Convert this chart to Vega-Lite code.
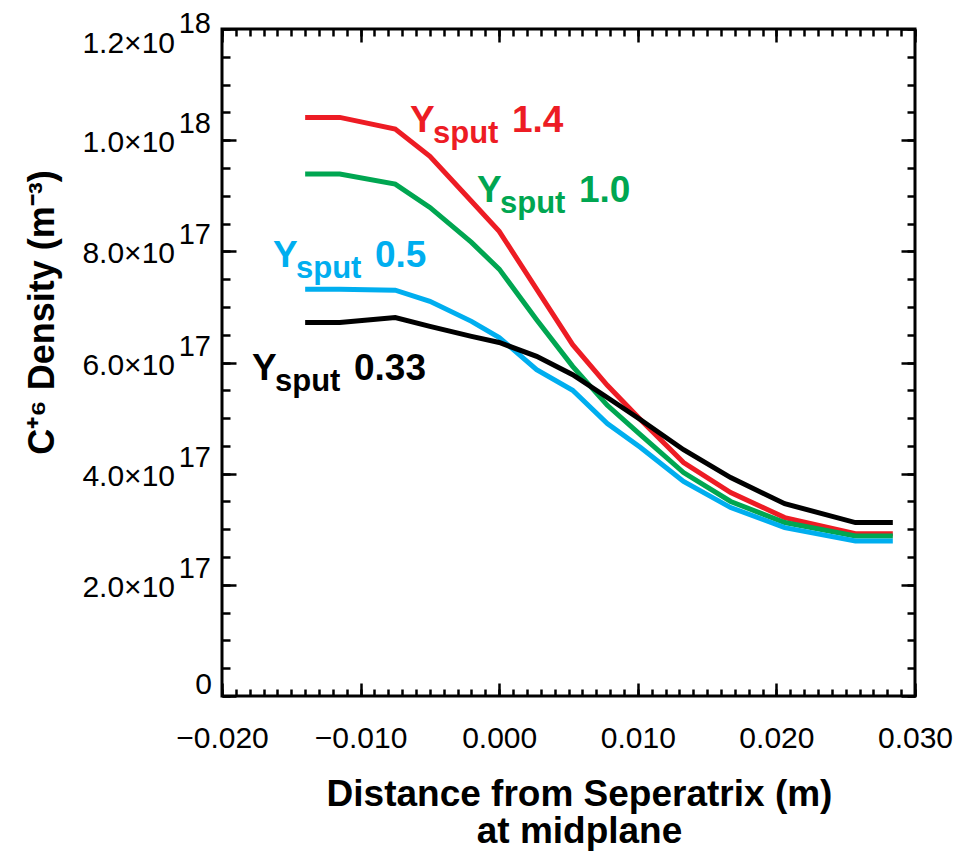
{
  "$schema": "https://vega.github.io/schema/vega-lite/v6.json",
  "width": 693,
  "height": 667,
  "autosize": {"type": "none"},
  "padding": {"left": 222, "top": 29, "right": 58, "bottom": 157},
  "background": "white",
  "config": {
    "view": {"stroke": "black", "strokeWidth": 3},
    "axis": {"domain": false, "grid": false, "tickColor": "black", "tickWidth": 2.5, "labelFont": "Liberation Sans", "labelFontSize": 30, "labelColor": "black", "titleFont": "Liberation Sans", "titleColor": "black"}
  },
  "datasets": {
    "lines": [
      {"s": "1.4", "x": -0.0140, "y": 1.041e18}, {"s": "1.4", "x": -0.0115, "y": 1.041e18}, {"s": "1.4", "x": -0.0075, "y": 1.020e18}, {"s": "1.4", "x": -0.0050, "y": 9.71e17}, {"s": "1.4", "x": -0.0020, "y": 8.90e17}, {"s": "1.4", "x": 0.0000, "y": 8.36e17}, {"s": "1.4", "x": 0.0027, "y": 7.32e17}, {"s": "1.4", "x": 0.0053, "y": 6.32e17}, {"s": "1.4", "x": 0.0078, "y": 5.59e17}, {"s": "1.4", "x": 0.0102, "y": 4.97e17}, {"s": "1.4", "x": 0.0133, "y": 4.20e17}, {"s": "1.4", "x": 0.0167, "y": 3.66e17}, {"s": "1.4", "x": 0.0206, "y": 3.21e17}, {"s": "1.4", "x": 0.0257, "y": 2.92e17}, {"s": "1.4", "x": 0.0284, "y": 2.92e17},
      {"s": "1.0", "x": -0.0140, "y": 9.39e17}, {"s": "1.0", "x": -0.0115, "y": 9.39e17}, {"s": "1.0", "x": -0.0075, "y": 9.21e17}, {"s": "1.0", "x": -0.0050, "y": 8.79e17}, {"s": "1.0", "x": -0.0020, "y": 8.16e17}, {"s": "1.0", "x": 0.0000, "y": 7.68e17}, {"s": "1.0", "x": 0.0027, "y": 6.77e17}, {"s": "1.0", "x": 0.0053, "y": 5.93e17}, {"s": "1.0", "x": 0.0078, "y": 5.23e17}, {"s": "1.0", "x": 0.0102, "y": 4.70e17}, {"s": "1.0", "x": 0.0133, "y": 4.02e17}, {"s": "1.0", "x": 0.0167, "y": 3.50e17}, {"s": "1.0", "x": 0.0206, "y": 3.12e17}, {"s": "1.0", "x": 0.0257, "y": 2.88e17}, {"s": "1.0", "x": 0.0284, "y": 2.88e17},
      {"s": "0.5", "x": -0.0140, "y": 7.32e17}, {"s": "0.5", "x": -0.0115, "y": 7.32e17}, {"s": "0.5", "x": -0.0075, "y": 7.30e17}, {"s": "0.5", "x": -0.0050, "y": 7.10e17}, {"s": "0.5", "x": -0.0020, "y": 6.74e17}, {"s": "0.5", "x": 0.0000, "y": 6.45e17}, {"s": "0.5", "x": 0.0027, "y": 5.87e17}, {"s": "0.5", "x": 0.0053, "y": 5.50e17}, {"s": "0.5", "x": 0.0078, "y": 4.90e17}, {"s": "0.5", "x": 0.0102, "y": 4.47e17}, {"s": "0.5", "x": 0.0133, "y": 3.86e17}, {"s": "0.5", "x": 0.0167, "y": 3.39e17}, {"s": "0.5", "x": 0.0206, "y": 3.03e17}, {"s": "0.5", "x": 0.0257, "y": 2.79e17}, {"s": "0.5", "x": 0.0284, "y": 2.79e17},
      {"s": "0.33", "x": -0.0140, "y": 6.72e17}, {"s": "0.33", "x": -0.0115, "y": 6.72e17}, {"s": "0.33", "x": -0.0075, "y": 6.81e17}, {"s": "0.33", "x": -0.0050, "y": 6.65e17}, {"s": "0.33", "x": -0.0020, "y": 6.47e17}, {"s": "0.33", "x": 0.0000, "y": 6.36e17}, {"s": "0.33", "x": 0.0027, "y": 6.11e17}, {"s": "0.33", "x": 0.0053, "y": 5.78e17}, {"s": "0.33", "x": 0.0078, "y": 5.37e17}, {"s": "0.33", "x": 0.0102, "y": 4.97e17}, {"s": "0.33", "x": 0.0133, "y": 4.43e17}, {"s": "0.33", "x": 0.0167, "y": 3.93e17}, {"s": "0.33", "x": 0.0206, "y": 3.46e17}, {"s": "0.33", "x": 0.0257, "y": 3.12e17}, {"s": "0.33", "x": 0.0284, "y": 3.12e17}
    ],
    "labels": [
      {"s": "1.4", "x": -0.006436, "y": 1.0144e18},
      {"s": "1.0", "x": -0.0016017, "y": 8.883e17},
      {"s": "0.5", "x": -0.016320, "y": 7.712e17},
      {"s": "0.33", "x": -0.017835, "y": 5.694e17}
    ],
    "yticks": [
      {"v": 0, "m": "0", "e": ""},
      {"v": 2e17, "m": "2.0×10", "e": "17"},
      {"v": 4e17, "m": "4.0×10", "e": "17"},
      {"v": 6e17, "m": "6.0×10", "e": "17"},
      {"v": 8e17, "m": "8.0×10", "e": "17"},
      {"v": 1e18, "m": "1.0×10", "e": "18"},
      {"v": 1.2e18, "m": "1.2×10", "e": "18"}
    ]
  },
  "data": {"name": "lines"},
  "layer": [
    {
      "mark": {"type": "line", "strokeWidth": 5},
      "encoding": {
        "x": {"field": "x", "type": "quantitative", "scale": {"domain": [-0.02, 0.03], "nice": false, "zero": false},
          "axis": {"orient": "bottom", "values": [-0.02, -0.01, 0, 0.01, 0.02, 0.03], "format": ".3f", "tickSize": -13, "labelPadding": 40, "labelFlush": false, "labelOverlap": false,
            "title": ["Distance from Seperatrix (m)", "at midplane"], "titleFontSize": 37, "titleFontWeight": "bold", "titleLineHeight": 37, "titleBaseline": "alphabetic", "titleAnchor": "start", "titleAlign": "center", "titleX": 357, "titleY": 109}},
        "y": {"field": "y", "type": "quantitative", "scale": {"domain": [0, 1.2e18], "nice": false, "zero": false},
          "axis": {"orient": "left", "values": [0, 2e17, 4e17, 6e17, 8e17, 1e18, 1.2e18], "tickSize": -14, "labels": false,
            "title": "C⁺⁶ Density (m⁻³)", "titleFontSize": 36, "titleFontWeight": "bold", "titleAngle": -90, "titleAlign": "center", "titleBaseline": "middle", "titleAnchor": "start", "titleX": -180, "titleY": 283}},
        "color": {"field": "s", "type": "nominal", "sort": null, "scale": {"domain": ["1.4", "1.0", "0.5", "0.33"], "range": ["#ED1C24", "#00A651", "#00AEEF", "#000000"]}, "legend": null}
      }
    },
    {
      "mark": {"type": "point", "opacity": 0},
      "encoding": {
        "x": {"field": "x", "type": "quantitative", "axis": {"orient": "bottom", "values": [-0.02, -0.019, -0.018, -0.017, -0.016, -0.015, -0.014, -0.013, -0.012, -0.011, -0.01, -0.009, -0.008, -0.007, -0.006, -0.005, -0.004, -0.003, -0.002, -0.001, 0, 0.001, 0.002, 0.003, 0.004, 0.005, 0.006, 0.007, 0.008, 0.009, 0.01, 0.011, 0.012, 0.013, 0.014, 0.015, 0.016, 0.017, 0.018, 0.019, 0.02, 0.021, 0.022, 0.023, 0.024, 0.025, 0.026, 0.027, 0.028, 0.029, 0.03], "tickSize": -7, "labels": false, "title": null}},
        "y": {"field": "y", "type": "quantitative", "axis": {"orient": "left", "values": [0, 5e16, 1e17, 1.5e17, 2e17, 2.5e17, 3e17, 3.5e17, 4e17, 4.5e17, 5e17, 5.5e17, 6e17, 6.5e17, 7e17, 7.5e17, 8e17, 8.5e17, 9e17, 9.5e17, 1e18, 1.05e18, 1.1e18, 1.15e18, 1.2e18], "tickSize": -8, "labels": false, "title": null}}
      }
    },
    {
      "mark": {"type": "point", "opacity": 0},
      "encoding": {
        "x": {"field": "x", "type": "quantitative", "axis": {"orient": "top", "values": [-0.02, -0.01, 0, 0.01, 0.02, 0.03], "tickSize": -13, "labels": false, "title": null}},
        "y": {"field": "y", "type": "quantitative", "axis": {"orient": "right", "values": [0, 2e17, 4e17, 6e17, 8e17, 1e18, 1.2e18], "tickSize": -14, "labels": false, "title": null}}
      }
    },
    {
      "mark": {"type": "point", "opacity": 0},
      "encoding": {
        "x": {"field": "x", "type": "quantitative", "axis": {"orient": "top", "values": [-0.02, -0.019, -0.018, -0.017, -0.016, -0.015, -0.014, -0.013, -0.012, -0.011, -0.01, -0.009, -0.008, -0.007, -0.006, -0.005, -0.004, -0.003, -0.002, -0.001, 0, 0.001, 0.002, 0.003, 0.004, 0.005, 0.006, 0.007, 0.008, 0.009, 0.01, 0.011, 0.012, 0.013, 0.014, 0.015, 0.016, 0.017, 0.018, 0.019, 0.02, 0.021, 0.022, 0.023, 0.024, 0.025, 0.026, 0.027, 0.028, 0.029, 0.03], "tickSize": -7, "labels": false, "title": null}},
        "y": {"field": "y", "type": "quantitative", "axis": {"orient": "right", "values": [0, 5e16, 1e17, 1.5e17, 2e17, 2.5e17, 3e17, 3.5e17, 4e17, 4.5e17, 5e17, 5.5e17, 6e17, 6.5e17, 7e17, 7.5e17, 8e17, 8.5e17, 9e17, 9.5e17, 1e18, 1.05e18, 1.1e18, 1.15e18, 1.2e18], "tickSize": -8, "labels": false, "title": null}}
      }
    },
    {
      "data": {"name": "yticks"},
      "transform": [{"filter": "datum.v > 0 && datum.v < 1.1e18"}],
      "mark": {"type": "text", "align": "right", "baseline": "middle", "dx": -47, "dy": 3, "font": "Liberation Sans", "fontSize": 30, "color": "black"},
      "encoding": {
        "x": {"datum": -0.02, "type": "quantitative", "axis": null},
        "y": {"field": "v", "type": "quantitative", "axis": null},
        "text": {"field": "m"}
      }
    },
    {
      "data": {"name": "yticks"},
      "transform": [{"filter": "datum.v > 0 && datum.v < 1.1e18"}],
      "mark": {"type": "text", "align": "right", "baseline": "middle", "dx": -11, "dy": -16, "font": "Liberation Sans", "fontSize": 29, "color": "black"},
      "encoding": {
        "x": {"datum": -0.02, "type": "quantitative", "axis": null},
        "y": {"field": "v", "type": "quantitative", "axis": null},
        "text": {"field": "e"}
      }
    },
    {
      "data": {"name": "yticks"},
      "transform": [{"filter": "datum.v > 1.1e18"}],
      "mark": {"type": "text", "align": "right", "baseline": "middle", "dx": -47, "dy": 15, "font": "Liberation Sans", "fontSize": 30, "color": "black"},
      "encoding": {
        "x": {"datum": -0.02, "type": "quantitative", "axis": null},
        "y": {"field": "v", "type": "quantitative", "axis": null},
        "text": {"field": "m"}
      }
    },
    {
      "data": {"name": "yticks"},
      "transform": [{"filter": "datum.v > 1.1e18"}],
      "mark": {"type": "text", "align": "right", "baseline": "middle", "dx": -11, "dy": -5, "font": "Liberation Sans", "fontSize": 29, "color": "black"},
      "encoding": {
        "x": {"datum": -0.02, "type": "quantitative", "axis": null},
        "y": {"field": "v", "type": "quantitative", "axis": null},
        "text": {"field": "e"}
      }
    },
    {
      "data": {"name": "yticks"},
      "transform": [{"filter": "datum.v == 0"}],
      "mark": {"type": "text", "align": "right", "baseline": "middle", "dx": -10, "dy": -11, "font": "Liberation Sans", "fontSize": 30, "color": "black"},
      "encoding": {
        "x": {"datum": -0.02, "type": "quantitative", "axis": null},
        "y": {"field": "v", "type": "quantitative", "axis": null},
        "text": {"field": "m"}
      }
    },
    {
      "data": {"name": "labels"},
      "mark": {"type": "text", "align": "left", "baseline": "alphabetic", "font": "Liberation Sans", "fontWeight": "bold", "fontSize": 37},
      "encoding": {
        "x": {"field": "x", "type": "quantitative", "axis": null},
        "y": {"field": "y", "type": "quantitative", "axis": null},
        "text": {"value": "Y"},
        "color": {"field": "s", "type": "nominal", "legend": null}
      }
    },
    {
      "data": {"name": "labels"},
      "mark": {"type": "text", "align": "left", "baseline": "alphabetic", "dx": 23, "dy": 11, "font": "Liberation Sans", "fontWeight": "bold", "fontSize": 31},
      "encoding": {
        "x": {"field": "x", "type": "quantitative", "axis": null},
        "y": {"field": "y", "type": "quantitative", "axis": null},
        "text": {"value": "sput"},
        "color": {"field": "s", "type": "nominal", "legend": null}
      }
    },
    {
      "data": {"name": "labels"},
      "mark": {"type": "text", "align": "left", "baseline": "alphabetic", "dx": 102, "font": "Liberation Sans", "fontWeight": "bold", "fontSize": 37},
      "encoding": {
        "x": {"field": "x", "type": "quantitative", "axis": null},
        "y": {"field": "y", "type": "quantitative", "axis": null},
        "text": {"field": "s"},
        "color": {"field": "s", "type": "nominal", "legend": null}
      }
    }
  ],
  "resolve": {"axis": {"x": "independent", "y": "independent"}}
}
